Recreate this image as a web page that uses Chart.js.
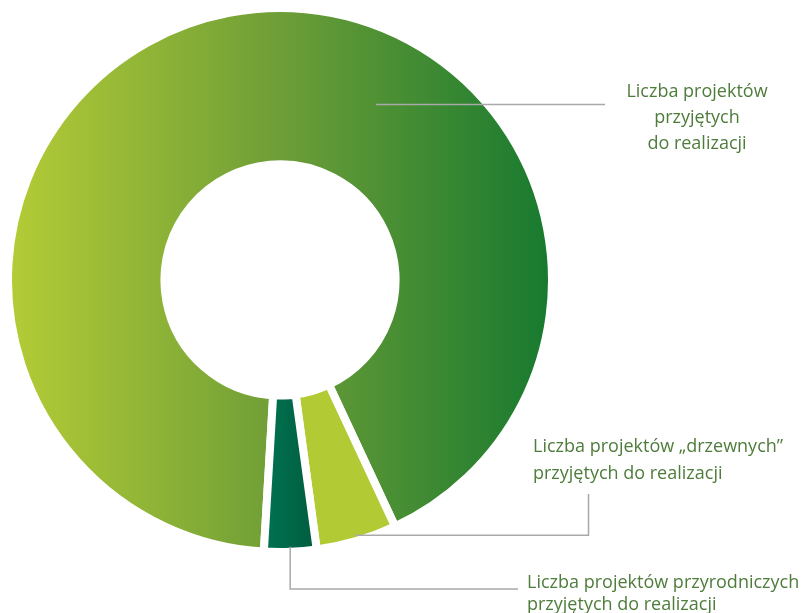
<!DOCTYPE html>
<html>
<head>
<meta charset="utf-8">
<script src="https://cdn.jsdelivr.net/npm/chart.js@4"></script>
<style>
  html, body { margin: 0; padding: 0; background: #fff; }
  #wrap { width: 808px; height: 613px; position: relative; }
</style>
</head>
<body>
<div id="wrap"><canvas id="chart" width="808" height="613"></canvas></div>
<script>
// dane
const categories = [
  'Liczba projektów przyjętych do realizacji',
  'Liczba projektów „drzewnych” przyjętych do realizacji',
  'Liczba projektów przyrodniczych przyjętych do realizacji'
];
const values = [92.1, 4.8, 3.1];
const labelLines = [
  ['Liczba projektów', 'przyjętych', 'do realizacji'],
  ['Liczba projektów „drzewnych”', 'przyjętych do realizacji'],
  ['Liczba projektów przyrodniczych', 'przyjętych do realizacji']
];

const TEXT_COLOR = '#4e7c3b';
const LINE_COLOR = '#a9a9a9';
const FONT = '400 18px "Open Sans", "Noto Sans", sans-serif';

// kolory segmentów (gradienty)
function segmentColor(ctx) {
  const chart = ctx.chart;
  const area = chart.chartArea;
  if (!area) return '#6a9a3a';
  const c = chart.ctx;
  if (ctx.dataIndex === 0) {
    const g = c.createLinearGradient(area.left + 8, 0, area.right - 8, 0);
    g.addColorStop(0, '#b3cb36');
    g.addColorStop(0.5, '#6e9e37');
    g.addColorStop(1, '#187a2f');
    return g;
  }
  if (ctx.dataIndex === 1) return '#b2ca33';
  const cx = (area.left + area.right) / 2;
  const g = c.createLinearGradient(cx - 12, 0, cx + 33, 0);
  g.addColorStop(0, '#00714f');
  g.addColorStop(1, '#005e40');
  return g;
}

// linie odniesienia i podpisy
const leaderPlugin = {
  id: 'leaders',
  afterDraw(chart) {
    const ctx = chart.ctx;
    const arcs = chart.getDatasetMeta(0).data;
    const mid = (a) => (a.startAngle + a.endAngle) / 2;
    const pt = (a, r, ang) => [a.x + Math.cos(ang) * r, a.y + Math.sin(ang) * r];

    ctx.save();
    ctx.strokeStyle = LINE_COLOR;
    ctx.lineWidth = 1.5;

    // duży segment
    const a0 = arcs[0];
    const p0 = pt(a0, 200, -Math.PI / 2 + 28.7 * Math.PI / 180);
    ctx.beginPath();
    ctx.moveTo(p0[0], p0[1]);
    ctx.lineTo(605, p0[1]);
    ctx.stroke();

    // "drzewne"
    const a1 = arcs[1];
    const p1 = pt(a1, a1.outerRadius - 6, mid(a1));
    ctx.beginPath();
    ctx.moveTo(p1[0], p1[1]);
    ctx.lineTo(588.5, p1[1]);
    ctx.lineTo(588.5, 494);
    ctx.stroke();

    // przyrodnicze
    const a2 = arcs[2];
    const p2 = pt(a2, a2.outerRadius - 5, mid(a2));
    ctx.beginPath();
    ctx.moveTo(p2[0], p2[1]);
    ctx.lineTo(p2[0], 589);
    ctx.lineTo(518, 589);
    ctx.stroke();

    ctx.fillStyle = TEXT_COLOR;
    ctx.font = FONT;
    ctx.textBaseline = 'alphabetic';
    ctx.textAlign = 'center';
    labelLines[0].forEach((t, i) => ctx.fillText(t, 697, 97 + i * 26));
    ctx.textAlign = 'left';
    labelLines[1].forEach((t, i) => ctx.fillText(t, 533, 452 + i * 27));
    labelLines[2].forEach((t, i) => ctx.fillText(t, 527, 588 + i * 22));
    ctx.restore();
  }
};

new Chart(document.getElementById('chart'), {
  type: 'doughnut',
  data: {
    labels: categories,
    datasets: [{
      data: values,
      backgroundColor: segmentColor,
      borderColor: '#ffffff',
      borderWidth: 8,
      borderAlign: 'center',
      hoverOffset: 0
    }]
  },
  options: {
    responsive: false,
    animation: false,
    rotation: 183.4,
    cutout: '42.5%',
    layout: { padding: { left: 4, top: 4, right: 252, bottom: 57 } },
    plugins: {
      legend: { display: false },
      tooltip: { enabled: false }
    }
  },
  plugins: [leaderPlugin]
});
</script>
</body>
</html>
